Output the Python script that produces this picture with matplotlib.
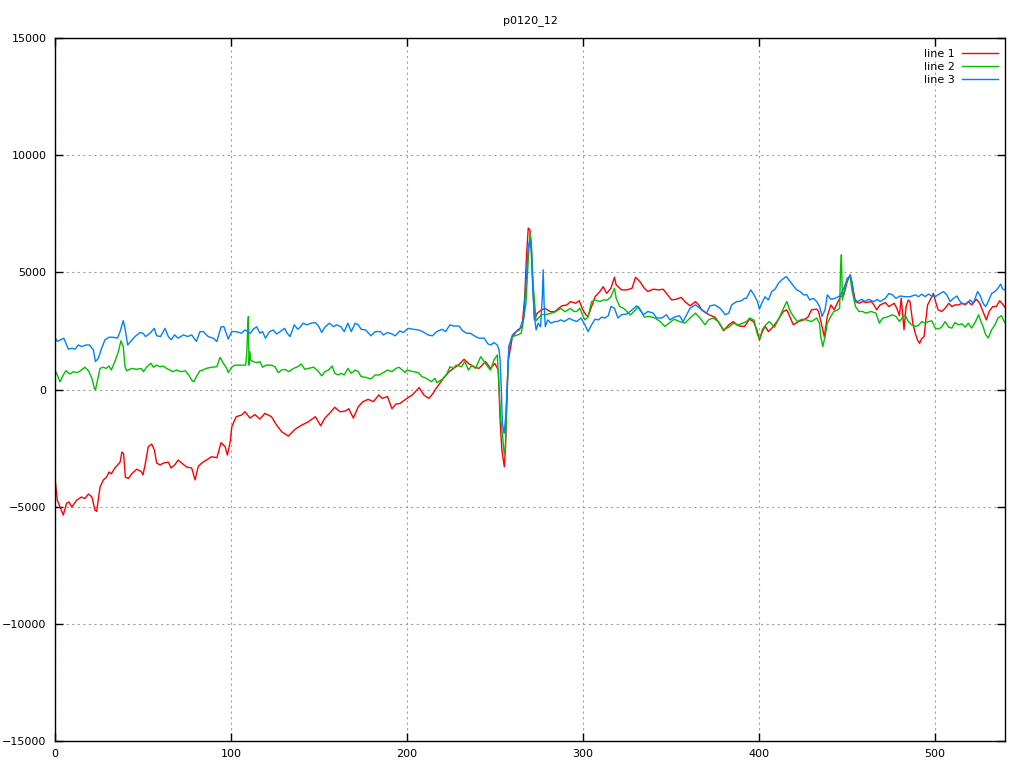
import matplotlib
matplotlib.use("Agg")
import matplotlib.pyplot as plt

title = "p0120_12"
labels = ["line 1", "line 2", "line 3"]
colors = ["#ff0000", "#00c000", "#0080ff"]
x_ticks = [0, 100, 200, 300, 400, 500]
y_ticks = [-15000, -10000, -5000, 0, 5000, 10000, 15000]

x1 = [0, 1.3, 4.7, 6.6, 8, 9.5, 12.3, 15, 17, 19, 21, 22.7, 23.7, 25.6, 27.5, 29.4, 30.7, 32, 34, 37, 38, 39, 40, 41.7, 43.6, 46.4, 49, 50, 51.5, 53, 55, 56.5, 57.8, 59.7, 61.6, 64.4, 66, 68, 70, 72, 74.8, 77.7, 79.6, 81.5, 83.4, 86, 89, 92, 94.4, 96.7, 98, 99.6, 100.5, 103, 106, 108, 110.8, 113.6, 116.5, 119.3, 123, 126, 128.8, 132.6, 136.4, 140.2, 144, 148, 151, 153.4, 156, 159, 162, 165, 167, 169.6, 172.4, 175, 178, 181, 184, 186, 189, 191.5, 193.8, 196, 200, 203, 207, 209.7, 212.5, 214.5, 216.7, 220, 224, 227.8, 229.7, 232.5, 235, 238, 241, 244.7, 247.6, 250, 252, 253, 254, 255.4, 256, 256.5, 257.7, 260, 262.5, 265.5, 267, 268, 269, 270, 270.7, 271.5, 272.5, 274, 276.4, 278.6, 281.5, 284, 288, 291, 293, 296, 298, 300, 301.8, 303, 305, 307, 309.7, 311.6, 313.5, 316, 318, 319, 322, 325, 328, 330, 332.5, 335, 337, 340, 343, 345.7, 347.6, 350.5, 353, 356, 358, 361, 364, 366, 367.5, 369.5, 372, 375, 377, 380, 383, 385.5, 387.5, 389.4, 392, 394.7, 397, 399, 400.4, 401.7, 403.6, 405.5, 408, 411, 414, 416, 418, 419.7, 422.6, 425.5, 428, 430, 433, 434, 436, 437.3, 439, 441, 443, 444.6, 446.5, 448.4, 450.3, 452, 453, 455, 457, 459, 461, 464, 465.5, 467, 469, 472, 474, 477, 478.5, 480, 481, 482.6, 483.8, 485, 486, 487.6, 489, 490.3, 491.4, 492.7, 494, 495, 496, 497, 498.4, 499.3, 500.8, 502, 504, 506, 508, 509.8, 511.6, 513.5, 515.5, 517.4, 519.2, 521, 523.8, 525.6, 527.5, 529.4, 531, 533, 535, 537, 539, 540]
y1 = [-3780, -4720, -5360, -4850, -4800, -5020, -4720, -4590, -4650, -4460, -4590, -5150, -5200, -4160, -3860, -3730, -3520, -3600, -3350, -3100, -2670, -2750, -3740, -3800, -3600, -3400, -3500, -3650, -3100, -2440, -2330, -2590, -3140, -3220, -3140, -3100, -3350, -3220, -3010, -3140, -3310, -3350, -3860, -3270, -3140, -3010, -2870, -2910, -2270, -2440, -2800, -2230, -1590, -1160, -1090, -950, -1220, -1070, -1260, -1020, -1160, -1520, -1800, -1990, -1700, -1520, -1380, -1160, -1550, -1220, -1020, -760, -950, -920, -820, -1220, -730, -520, -420, -520, -235, -380, -300, -820, -620, -600, -380, -240, 80, -240, -380, -200, 50, 400, 760, 970, 1070, 1290, 1110, 970, 900, 1190, 900, 1110, 830, -1300, -2580, -3300, -2580, -1300, 1260, 2250, 2500, 2680, 3960, 5670, 6890, 6800, 5940, 4680, 2970, 3250, 3390, 3460, 3320, 3320, 3570, 3610, 3750, 3680, 3790, 3400, 3180, 3120, 3540, 3960, 4180, 4390, 4100, 4320, 4790, 4460, 4250, 4250, 4320, 4790, 4600, 4320, 4180, 4280, 4250, 4280, 4100, 3820, 3850, 3930, 3750, 3570, 3750, 3600, 3400, 3290, 3180, 3090, 2900, 2510, 2760, 2900, 2760, 2700, 2690, 3000, 2900, 2550, 2110, 2400, 2700, 2470, 2660, 2970, 3330, 3400, 3050, 2760, 2900, 2970, 3090, 3400, 3430, 3330, 2690, 2250, 3120, 3610, 3400, 3680, 3960, 4040, 4600, 4890, 4530, 3750, 3680, 3750, 3710, 3750, 3610, 3400, 3610, 3710, 3540, 3680, 3470, 3150, 3900, 2550, 3540, 3820, 3750, 2830, 2400, 2110, 1970, 2180, 2250, 2970, 3610, 3750, 3960, 4100, 3680, 3400, 3330, 3470, 3680, 3540, 3610, 3610, 3680, 3610, 3750, 3610, 3850, 3680, 3330, 2970, 3330, 3540, 3540, 3790, 3610, 3500]

x2 = [0, 1.3, 2.8, 4.7, 6.2, 8.5, 10.4, 12.6, 14.5, 17, 19, 21, 22.4, 23, 24, 25.6, 27.5, 29, 30.7, 32, 34, 36, 37.5, 38.8, 39.8, 40.7, 43.6, 46.4, 49, 50.3, 52, 54.5, 56, 57.8, 59.7, 61.6, 63.4, 65.3, 67, 69, 72, 74, 76, 77.7, 79, 80.4, 82.4, 84, 86, 89, 92, 93.8, 95.7, 97.6, 98.5, 100.4, 102.3, 105, 108.4, 109, 109.5, 109.9, 110.3, 110.8, 111.3, 112.7, 114.6, 116.5, 118, 120, 123, 125, 127, 128.8, 130.7, 133, 135.5, 138, 140, 142, 144, 147, 149.4, 151.6, 153.4, 155.4, 157.6, 159, 161, 162.5, 164.4, 166.5, 168.4, 170.6, 172.4, 174, 176.6, 179.6, 182, 184.4, 186.6, 189, 191.5, 193.8, 195.5, 197.4, 199, 200, 203.7, 206.6, 208.5, 211, 214, 216, 217, 220, 222.6, 224.5, 226.4, 228, 231, 233, 235, 237, 239, 242, 244, 246, 247.6, 249.5, 251.4, 252.4, 253.4, 254.3, 255.3, 256, 257, 258, 260, 263, 265, 266, 267.7, 269, 270, 270.8, 271.6, 272.5, 273.4, 275, 276.6, 279, 282, 284.5, 287.5, 290, 293, 295, 296.5, 298.4, 300, 301.2, 303, 305, 307, 309.7, 311.6, 314, 316, 318, 319, 321, 323, 325, 327, 330, 331.5, 333.3, 335, 338, 341, 344, 346.6, 349.5, 352, 355, 358, 361, 364, 366.6, 369.5, 371.4, 374, 377, 380, 383, 385.5, 388.5, 391, 393, 395, 397.3, 399.3, 400.7, 402, 404, 406, 409, 412, 415, 416, 418, 419.7, 422, 424.6, 427, 430, 433, 434.5, 435.3, 436.4, 437.7, 439, 441, 442.7, 444.6, 446, 446.5, 447, 447.6, 448.7, 450.3, 452, 453, 455, 457, 459, 461, 463.8, 466.6, 468.6, 470.5, 473, 476, 478, 480, 482, 483.2, 485, 487, 489, 490.8, 492.7, 494.6, 496.5, 498.4, 500.3, 502, 504, 506, 508, 509.8, 511.6, 513.5, 515.5, 517.4, 519.2, 521, 523, 525, 526.3, 527.5, 529, 530.5, 532.4, 534.3, 536, 538, 539.5, 540]
y2 = [830, 620, 330, 620, 800, 660, 760, 720, 800, 950, 800, 470, 50, -20, 330, 900, 950, 900, 1000, 830, 1190, 1610, 2080, 1830, 970, 800, 900, 860, 900, 760, 950, 1120, 950, 1040, 970, 1000, 900, 830, 760, 830, 760, 800, 620, 400, 330, 550, 800, 830, 900, 950, 970, 1370, 1120, 900, 720, 950, 1040, 1040, 1040, 1540, 2540, 3110, 1040, 1610, 1250, 1190, 1140, 1190, 950, 1040, 1040, 970, 720, 830, 860, 760, 900, 970, 1090, 860, 900, 950, 800, 580, 760, 830, 1000, 690, 620, 690, 620, 900, 690, 830, 760, 550, 520, 450, 620, 620, 720, 830, 760, 900, 950, 830, 720, 830, 760, 720, 550, 480, 330, 480, 290, 430, 650, 970, 900, 1040, 970, 1190, 830, 1040, 900, 1400, 1190, 970, 830, 1260, 1470, 120, -1300, -1870, -2730, -2580, 120, 1830, 2250, 2330, 2400, 2830, 3680, 5530, 6670, 6250, 4680, 3820, 2930, 3070, 3200, 3200, 3250, 3320, 3460, 3320, 3460, 3330, 3330, 3470, 3150, 2970, 3090, 3750, 3820, 3750, 3820, 3820, 3960, 4320, 3890, 3540, 3470, 3330, 3180, 3400, 3540, 3330, 3090, 3120, 3050, 2900, 2690, 2860, 3000, 2900, 2830, 3050, 3260, 3050, 2760, 2970, 3050, 2900, 2550, 2660, 2830, 2760, 2830, 2900, 3050, 2960, 2340, 2160, 2550, 2760, 2900, 2660, 3120, 3610, 3750, 3330, 3120, 2900, 3000, 2970, 2900, 3050, 2830, 2250, 1830, 2250, 2830, 3120, 3330, 3380, 3470, 5110, 5750, 3820, 4250, 4750, 4820, 4250, 3540, 3330, 3330, 3260, 3330, 3260, 2830, 3050, 3090, 3190, 3120, 2900, 3100, 3190, 2900, 2760, 2690, 2730, 2900, 2830, 2900, 2930, 2620, 2580, 2660, 2900, 2660, 2620, 2860, 2760, 2800, 2660, 2830, 2620, 2860, 3190, 2900, 2690, 2340, 2200, 2550, 2760, 3050, 3150, 2900, 2850]

x3 = [0, 1.3, 3.2, 5, 7.6, 9.5, 11.4, 13.3, 15, 17.6, 19.5, 21.8, 23, 24.6, 26.5, 28.4, 30.7, 33, 35.5, 37, 38.8, 39.8, 41.3, 43, 45.5, 48.3, 50, 51.5, 54, 56.4, 57.8, 60, 62.5, 64.4, 66, 68, 70, 73, 75.4, 77.7, 79, 80.4, 82.4, 84.3, 87, 90, 92, 94.4, 96, 97.3, 98.5, 100.4, 103, 106, 108, 111, 112.7, 114.6, 116.5, 118, 119.6, 122, 124, 126, 128, 130.5, 132, 133.6, 136, 138, 139.6, 141, 143, 145.7, 148, 150, 151.6, 153.4, 156, 158.4, 160, 162.5, 164.4, 166.5, 168.4, 170.6, 172.4, 174, 176.6, 179.6, 182, 185, 186.6, 189, 191.5, 193.4, 196, 198, 200.7, 203.7, 206.6, 209, 212, 214.5, 217, 220, 222, 224.5, 226.4, 229.7, 231.5, 234, 236, 239, 241, 244, 246, 247.6, 249.5, 251.4, 252.4, 253, 253.7, 254.3, 255.3, 256.2, 257, 258, 260, 262, 264, 265, 266.4, 267.6, 269, 270, 270.8, 271.6, 272.5, 273.5, 274.6, 276, 277, 277.5, 278, 278.7, 280, 282, 284, 285.5, 287.5, 289.5, 292.4, 294, 296.5, 299, 301.2, 303, 305, 307, 309, 310.7, 312.6, 314.5, 316, 318, 320, 322, 325, 328, 330.6, 332.5, 334.4, 337, 340, 342, 344.8, 347.6, 349.5, 352, 355, 357, 359, 361, 364, 366.6, 368.5, 370.4, 372.3, 375, 378, 381, 383, 384.6, 387.5, 390, 392, 393, 395.5, 397.3, 399.3, 400.4, 401.7, 403.6, 405.5, 407.4, 409.3, 411.2, 413, 415.6, 418, 420, 421.6, 423.5, 425.5, 427.4, 429, 431, 433, 434.6, 436, 437.7, 439, 441, 443.4, 446, 447, 448.7, 450.3, 452, 453, 454.2, 456, 458.6, 460.5, 462.3, 465.5, 467.4, 469, 472, 474, 476, 478, 480.4, 483, 486, 489, 490.8, 492.7, 494.6, 496.5, 498.4, 500.3, 502, 505, 506.9, 508.8, 510.7, 512.6, 514.5, 516.4, 518.3, 520.2, 522, 524.4, 526, 527.5, 529, 530.5, 532.4, 534.3, 536, 537.5, 538.7, 540]
y3 = [2230, 2050, 2120, 2190, 1720, 1760, 1720, 1900, 1830, 1900, 1900, 1690, 1190, 1330, 1760, 2120, 2230, 2230, 2190, 2470, 2940, 2610, 1900, 2050, 2260, 2430, 2400, 2260, 2400, 2610, 2290, 2260, 2610, 2260, 2120, 2330, 2190, 2330, 2260, 2330, 2190, 2050, 2470, 2470, 2260, 2190, 2050, 2680, 2680, 2400, 2150, 2470, 2470, 2400, 2540, 2400, 2570, 2680, 2400, 2470, 2190, 2470, 2540, 2370, 2470, 2610, 2400, 2260, 2760, 2570, 2680, 2830, 2760, 2830, 2860, 2680, 2430, 2660, 2830, 2680, 2760, 2680, 2470, 2830, 2470, 2830, 2760, 2570, 2540, 2290, 2470, 2470, 2330, 2430, 2370, 2290, 2500, 2430, 2610, 2570, 2540, 2470, 2330, 2290, 2470, 2570, 2470, 2760, 2710, 2710, 2520, 2400, 2400, 2260, 2190, 2190, 1950, 1900, 2000, 1900, 1690, 1260, -20, -1440, -1870, -1160, 120, 1830, 2330, 2470, 2540, 2760, 3040, 4390, 6100, 6390, 5960, 4250, 3110, 2540, 2830, 2680, 3960, 5110, 3680, 2680, 2970, 2830, 2900, 2900, 2970, 2900, 3040, 2970, 2900, 3050, 2760, 2470, 2760, 3000, 2970, 3090, 3050, 3150, 3540, 3470, 3050, 3190, 3220, 3400, 3570, 3400, 3190, 3330, 3260, 3050, 3050, 3190, 2970, 3090, 3150, 2900, 3190, 3470, 3610, 3470, 3370, 3260, 3570, 3610, 3470, 3190, 3260, 3610, 3750, 3780, 3890, 3890, 4250, 4040, 3750, 3430, 3680, 3960, 3820, 4180, 4280, 4530, 4670, 4820, 4600, 4390, 4250, 4180, 4040, 4040, 3820, 3890, 3750, 3540, 3120, 3400, 4040, 3850, 3890, 3990, 4100, 4390, 4670, 4890, 4600, 3890, 3750, 3850, 3750, 3850, 3750, 3850, 3750, 3890, 4100, 4040, 3890, 3990, 3960, 3960, 4040, 3960, 4070, 3960, 4070, 3990, 3960, 4040, 4180, 4040, 3750, 3890, 3990, 3750, 3640, 3680, 3820, 3680, 4180, 3990, 3680, 3540, 3750, 4100, 4180, 4320, 4500, 4280, 4250]

plt.rcParams['font.family'] = ['DejaVu Sans']
fig = plt.figure(figsize=(10.24, 7.68), dpi=100)
ax = fig.add_axes([55/1024, 27/768, 950/1024, 703/768])

for xs, ys, lab, col in zip([x1, x2, x3], [y1, y2, y3], labels, colors):
    ax.plot(xs, ys, color=col, lw=1.0, label=lab)

ax.set_xlim(0, 540)
ax.set_ylim(-15000, 15000)
ax.set_xticks(x_ticks)
ax.set_yticks(y_ticks)
ax.tick_params(direction='in', length=6, width=1, top=True, right=True,
               labelsize=8, colors='black', pad=6)
ax.grid(True, color='#a0a0a0', linestyle=(0, (2, 3)), linewidth=0.8)
for s in ax.spines.values():
    s.set_linewidth(1.0)
ax.set_title(title, fontsize=8, pad=11)

leg = ax.legend(loc='upper right', frameon=False, markerfirst=False,
                fontsize=8, handlelength=3.3, handletextpad=0.6,
                labelspacing=0.25, borderaxespad=0.3,
                bbox_to_anchor=(1.001, 0.995))

fig.savefig("out.png", dpi=100)
